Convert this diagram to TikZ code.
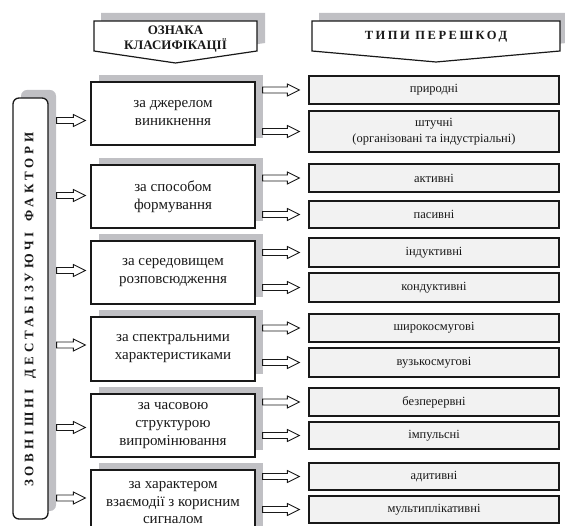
\documentclass[tikz,border=0pt]{standalone}
\usepackage{fontspec}
\setmainfont{Liberation Serif}
\newfontfamily\spacedfont[LetterSpace=20]{Liberation Serif}
\newfontfamily\vertfont[LetterSpace=30]{Liberation Serif}
\usetikzlibrary{calc,shadows}
\definecolor{shadowgray}{RGB}{192,192,196}
\definecolor{boxgray}{RGB}{242,242,242}
\definecolor{ink}{RGB}{25,25,25}
\tikzset{
  midbox/.style={draw=ink, line width=1.3pt, fill=white, minimum width=164pt, minimum height=63pt,
    inner sep=0pt, align=center, text=ink, font=\fontsize{15}{18}\selectfont,
    drop shadow={shadow xshift=8pt, shadow yshift=7pt, fill=shadowgray, opacity=1}},
  typebox/.style={draw=ink, line width=1.2pt, fill=boxgray, minimum width=250pt, minimum height=28pt,
    inner sep=0pt, align=center, text=ink, font=\fontsize{12.5}{16}\selectfont},
  harrow/.style={draw=ink, line width=0.9pt, fill=white,
    to path={let \p1=(\tikztostart), \p2=(\tikztotarget) in
      (\x1,\y1+3) -- (\x2-12,\y1+3) -- (\x2-12,\y1+6) -- (\x2,\y1) -- (\x2-12,\y1-6)
      -- (\x2-12,\y1-3) -- (\x1,\y1-3) -- cycle}},
  headshape/.style={draw=ink, line width=1.2pt, fill=white},
  headshadow/.style={fill=shadowgray}
}
\begin{document}
\begin{tikzpicture}[x=1pt,y=-1pt]
\useasboundingbox (0,0) rectangle (565,526);
\clip (0,0) rectangle (565,526);

% headers
\fill[headshadow] (101,13) -- (265,13) -- (265,43) -- (182.5,55) -- (101,43) -- cycle;
\draw[headshape] (94,21) -- (257,21) -- (257,51) -- (175.5,63) -- (94,51) -- cycle;
\node[align=center, text=ink, font=\bfseries\fontsize{13}{15.5}\selectfont] (h1) at (175.5,39) {ОЗНАКА\\КЛАСИФІКАЦІЇ};

\fill[headshadow] (319,13) -- (567,13) -- (567,43) -- (443,54) -- (319,43) -- cycle;
\draw[headshape] (312,21) -- (560,21) -- (560,51) -- (436,62) -- (312,51) -- cycle;
\node[text=ink, font=\spacedfont\bfseries\fontsize{12.5}{15}\selectfont] (h2) at (436,36.5) {ТИПИ ПЕРЕШКОД};

% outer box
\node[draw=ink, line width=1.3pt, fill=white, rounded corners=6pt, minimum width=35pt, minimum height=421pt,
  inner sep=0pt, drop shadow={shadow xshift=8pt, shadow yshift=8pt, fill=shadowgray, opacity=1}] (ext) at (30.5,308.5) {};
\node[rotate=90, text=ink, font=\vertfont\bfseries\fontsize{13}{15}\selectfont] (extt) at ([yshift=-1pt]ext.center) {ЗОВНІШНІ\hspace{4pt} ДЕСТАБІЗУЮЧІ\hspace{4pt} ФАКТОРИ};

% middle boxes
\node[midbox] (m1) at (173,113.5) {за джерелом\\виникнення};
\node[midbox] (m2) at (173,196.5) {за способом\\формування};
\node[midbox] (m3) at (173,272.5) {за середовищем\\розповсюдження};
\node[midbox, minimum height=64pt] (m4) at (173,349) {за спектральними\\характеристиками};
\node[midbox] (m5) at (173,425.5) {за часовою\\структурою\\випромінювання};
\node[midbox, minimum height=66pt, font=\fontsize{15}{17.5}\selectfont] (m6) at (173,503) {за характером\\взаємодії з корисним\\сигналом};

% type boxes
\node[typebox] (r1) at (434,90) {природні};
\node[typebox, minimum height=41pt] (r2) at (434,131.5) {штучні\\(організовані та індустріальні)};
\node[typebox] (r3) at (434,178) {активні};
\node[typebox, minimum height=27pt] (r4) at (434,214.5) {пасивні};
\node[typebox, minimum height=29pt] (r5) at (434,252.5) {індуктивні};
\node[typebox, minimum height=29pt] (r6) at (434,287.5) {кондуктивні};
\node[typebox] (r7) at (434,328) {широкосмугові};
\node[typebox, minimum height=29pt] (r8) at (434,362.5) {вузькосмугові};
\node[typebox] (r9) at (434,402) {безперервні};
\node[typebox, minimum height=27pt] (r10) at (434,435.5) {імпульсні};
\node[typebox, minimum height=27pt] (r11) at (434,476.5) {адитивні};
\node[typebox, minimum height=27pt] (r12) at (434,509.5) {мультиплікативні};

% left arrows
\draw[harrow] ([xshift=8pt,yshift=-7pt]ext.east |- m1.west) to ([xshift=-5pt]m1.west);
\draw[harrow] ([xshift=8pt,yshift=1pt]ext.east |- m2.west) to ([xshift=-5pt]m2.west);
\draw[harrow] ([xshift=8pt,yshift=2pt]ext.east |- m3.west) to ([xshift=-5pt]m3.west);
\draw[harrow] ([xshift=8pt,yshift=4pt]ext.east |- m4.west) to ([xshift=-5pt]m4.west);
\draw[harrow] ([xshift=8pt,yshift=-2pt]ext.east |- m5.west) to ([xshift=-5pt]m5.west);
\draw[harrow] ([xshift=8pt,yshift=5pt]ext.east |- m6.west) to ([xshift=-5pt]m6.west);

% right arrows
\foreach \m/\a/\b in {m1/r1/r2, m2/r3/r4, m3/r5/r6, m4/r7/r8, m5/r9/r10, m6/r11/r12}{
  \draw[harrow] ([xshift=7pt]\m.east |- \a.west) to ([xshift=-9pt]\a.west);
  \draw[harrow] ([xshift=7pt]\m.east |- \b.west) to ([xshift=-9pt]\b.west);
}
\end{tikzpicture}
\end{document}
